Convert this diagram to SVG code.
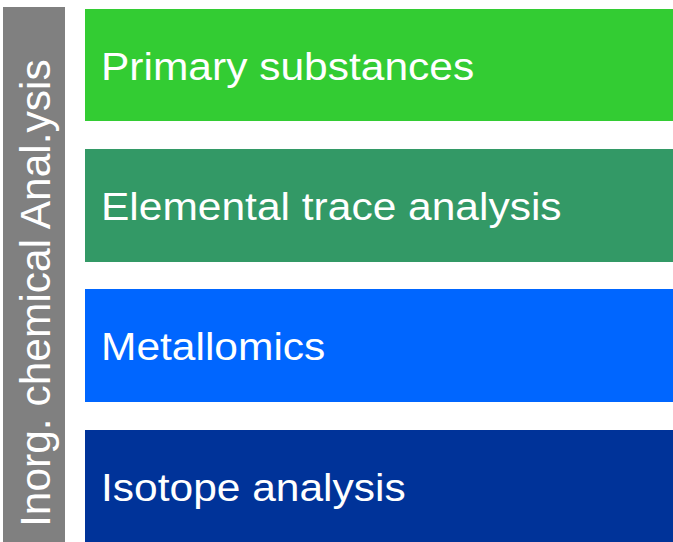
<svg xmlns="http://www.w3.org/2000/svg" width="673" height="542" viewBox="0 0 673 542">
  <style>
    .lbl { font-family: "Liberation Sans", Arial, sans-serif; fill: #ffffff; }
    .row { font-size: 39px; }
    .side { font-size: 42.5px; }
  </style>
  <rect width="673" height="542" fill="#ffffff"/>
  <g id="side-label">
    <rect x="3" y="7" width="62" height="535" fill="#808080"/>
    <text class="lbl side" transform="translate(50,527) rotate(-90)">Inorg. chemical Anal.ysis</text>
  </g>
  <g id="primary-substances">
    <rect x="85" y="9" width="588" height="112" fill="#33cc33"/>
    <text class="lbl row" transform="translate(101,80) scale(1.09,1)">Primary substances</text>
  </g>
  <g id="elemental-trace-analysis">
    <rect x="85" y="149" width="588" height="113" fill="#339966"/>
    <text class="lbl row" transform="translate(101,220) scale(1.09,1)">Elemental trace analysis</text>
  </g>
  <g id="metallomics">
    <rect x="85" y="289" width="588" height="113" fill="#0066ff"/>
    <text class="lbl row" transform="translate(101,360) scale(1.09,1)">Metallomics</text>
  </g>
  <g id="isotope-analysis">
    <rect x="85" y="430" width="588" height="112" fill="#003399"/>
    <text class="lbl row" transform="translate(101,501) scale(1.09,1)">Isotope analysis</text>
  </g>
  <g id="connectors"/>
</svg>
